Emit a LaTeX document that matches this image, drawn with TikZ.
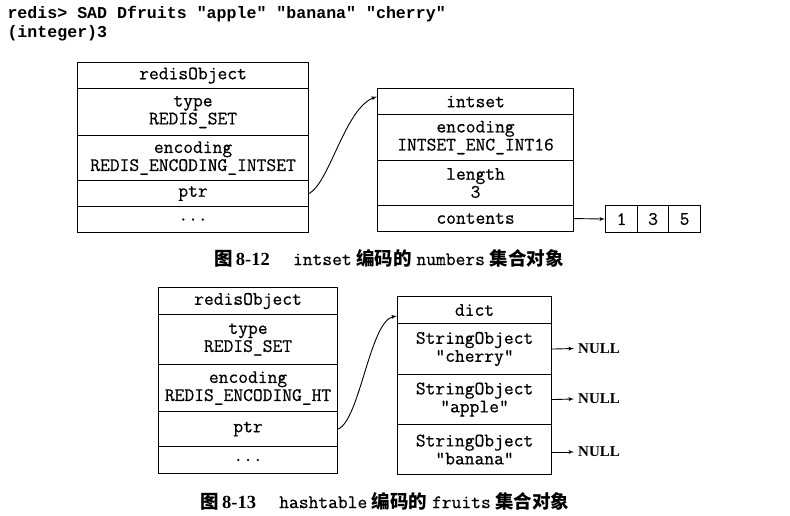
\documentclass[tikz,border=0pt]{standalone}
\usepackage{fontspec}
\setmainfont{Liberation Serif}
\newfontfamily\cmdfont{Liberation Mono}
\newfontfamily\boxfont{Latin Modern Mono}[FakeBold=0.6]
\newfontfamily\cjk{Noto Sans CJK SC}
\usetikzlibrary{positioning,arrows}

\begin{document}
\begin{tikzpicture}[y=-1pt, x=1pt,font=\boxfont\fontsize{19}{18}\selectfont,
  cell/.style={draw, line width=1.1pt, inner sep=0pt, align=center, anchor=north west},
  ptrarrow/.style={-latex', line width=0.9pt},
  nulltext/.style={anchor=west, font=\rmfamily\bfseries\fontsize{15}{18}\selectfont, inner sep=0pt},
  capt/.style={font=\fontsize{18.5}{20}\selectfont}]
\useasboundingbox (0,0) rectangle (790,516);

\node [anchor=north west,font=\cmdfont\bfseries\fontsize{16.6}{19}\selectfont,align=left] (cmd) at (4,3)
  {redis> SAD Dfruits "apple" "banana" "cherry"\\(integer)3};

% intset encoding
\node [cell, minimum width=231, minimum height=26] (ro1) at (77,62) {redisObject};
\node [cell, minimum width=231, minimum height=47] (ro2) at (77,88) {type\\REDIS\_SET};
\node [cell, minimum width=231, minimum height=45] (ro3) at (77,135) {encoding\\REDIS\_ENCODING\_INTSET};
\node [cell, minimum width=231, minimum height=26] (ro4) at (77,180) {ptr};
\node [cell, minimum width=231, minimum height=26] (ro5) at (77,206) {...};

\node [cell, minimum width=196, minimum height=26] (is1) at (377,88) {intset};
\node [cell, minimum width=196, minimum height=46] (is2) at (377,114) {encoding\\INTSET\_ENC\_INT16};
\node [cell, minimum width=196, minimum height=45] (is3) at (377,160) {length\\3};
\node [cell, minimum width=196, minimum height=26] (is4) at (377,205) {contents};

\node [cell, minimum width=32, minimum height=27] (a1) at (605,205) {1};
\node [cell, minimum width=31, minimum height=27] (a3) at (637,205) {3};
\node [cell, minimum width=32, minimum height=27] (a5) at (668,205) {5};

\draw [ptrarrow] (ro4.east) .. controls (330,182) and (345,108) .. ([yshift=5pt]is1.west);
\draw [ptrarrow] (is4.east) -- (a1.west);

\node [capt] (cap1) at (389,258) {{\cjk\bfseries 图}\,\textbf{\rmfamily 8-12}\quad\ {\boxfont\fontsize{19}{18}\selectfont intset} {\cjk\bfseries 编码的} {\boxfont\fontsize{19}{18}\selectfont numbers} {\cjk\bfseries 集合对象}};

% hashtable encoding
\node [cell, minimum width=179, minimum height=27] (rb1) at (158,287) {redisObject};
\node [cell, minimum width=179, minimum height=50] (rb2) at (158,314) {type\\REDIS\_SET};
\node [cell, minimum width=179, minimum height=47] (rb3) at (158,364) {encoding\\REDIS\_ENCODING\_HT};
\node [cell, minimum width=179, minimum height=35] (rb4) at (158,411) {ptr};
\node [cell, minimum width=179, minimum height=27] (rb5) at (158,446) {...};

\node [cell, minimum width=154, minimum height=27] (d1) at (397,296) {dict};
\node [cell, minimum width=154, minimum height=51] (d2) at (397,323) {StringObject\\"cherry"};
\node [cell, minimum width=154, minimum height=50] (d3) at (397,374) {StringObject\\"apple"};
\node [cell, minimum width=154, minimum height=50] (d4) at (397,424) {StringObject\\"banana"};

\node [nulltext] (n1) at (578,348.5) {NULL};
\node [nulltext] (n2) at (578,399) {NULL};
\node [nulltext] (n3) at (578,452) {NULL};

\draw [ptrarrow] (rb4.east) .. controls (360,420) and (370,320) .. ([yshift=-6pt]d1.west);
\draw [ptrarrow] (d2.east) -- ([xshift=-4pt]n1.west);
\draw [ptrarrow] (d3.east) -- ([xshift=-4pt]n2.west);
\draw [ptrarrow] (d4.east |- n3.west) -- ([xshift=-4pt]n3.west);

\node [capt] (cap2) at (385,501) {{\cjk\bfseries 图}\,\textbf{\rmfamily 8-13}\quad\ {\boxfont\fontsize{19}{18}\selectfont hashtable} {\cjk\bfseries 编码的} {\boxfont\fontsize{19}{18}\selectfont fruits} {\cjk\bfseries 集合对象}};
\end{tikzpicture}
\end{document}
